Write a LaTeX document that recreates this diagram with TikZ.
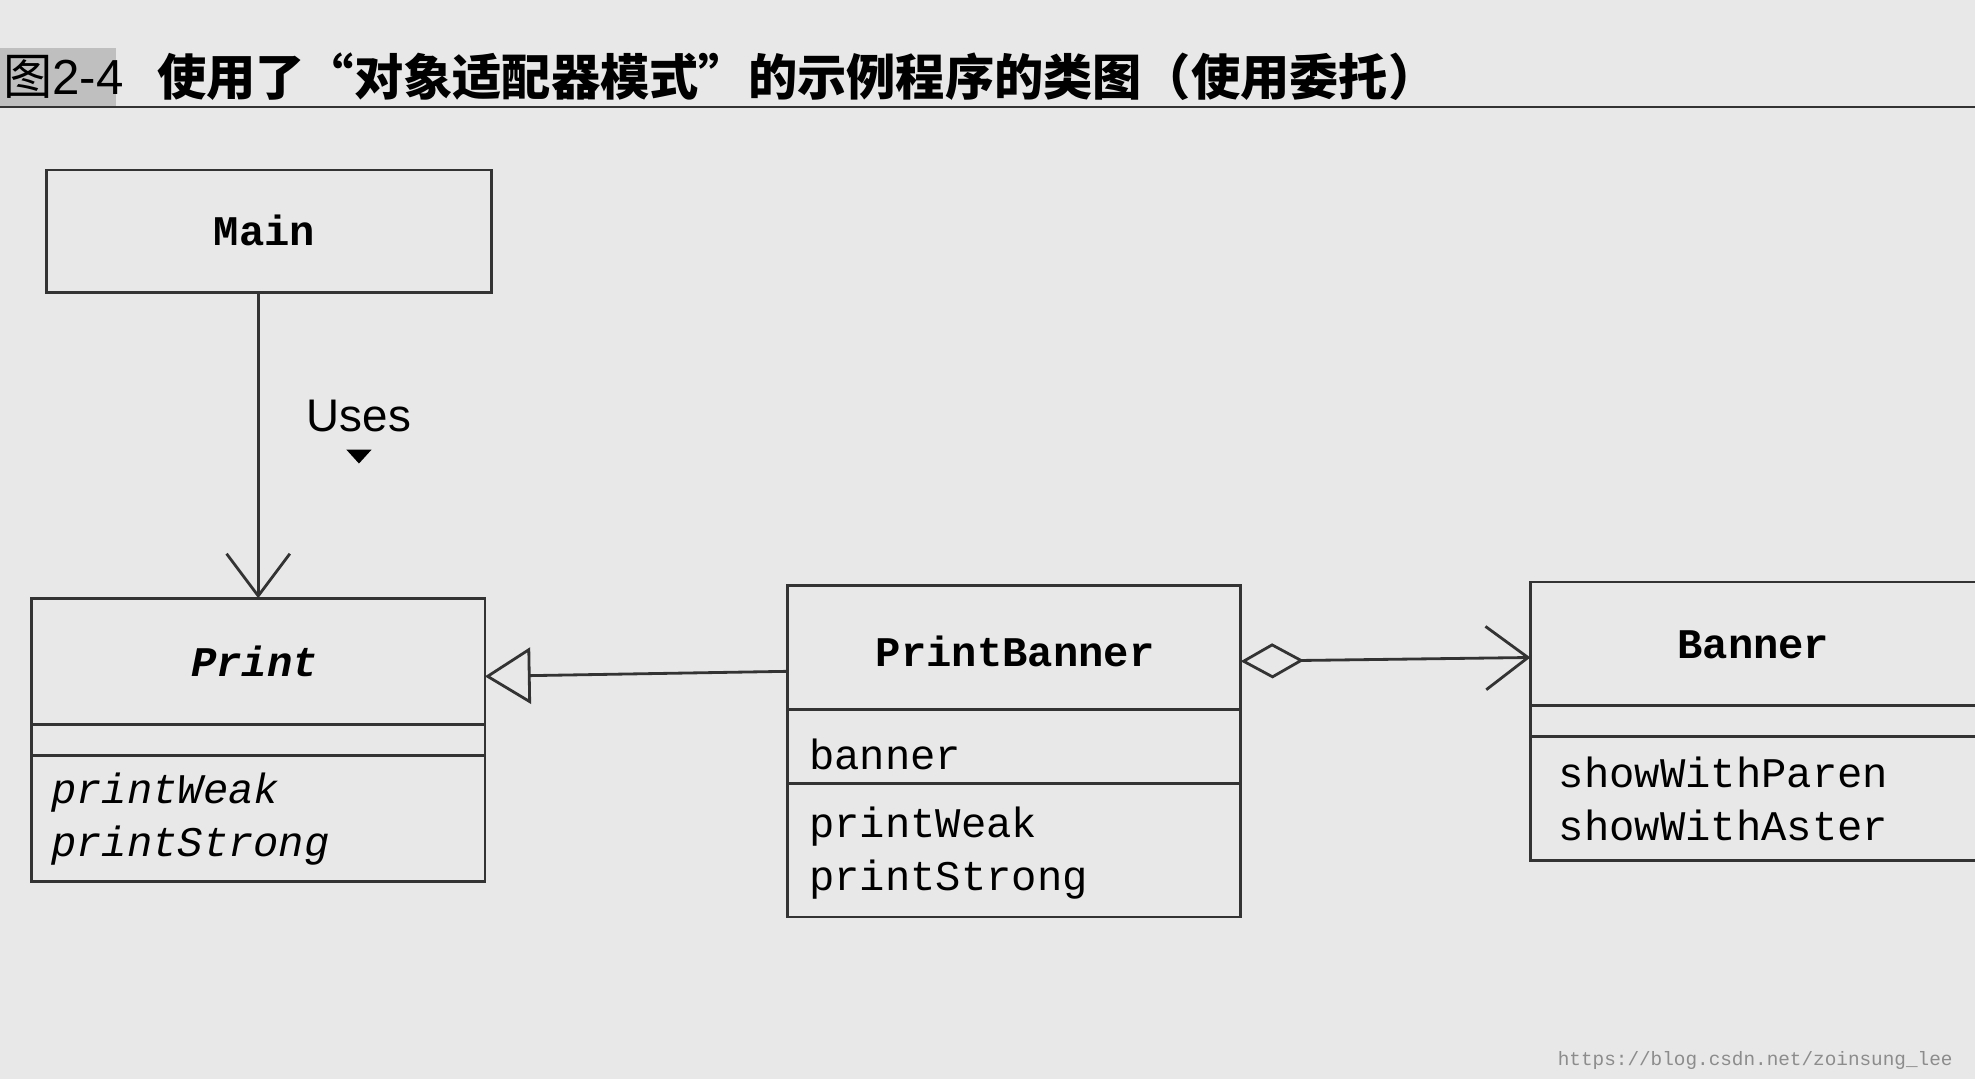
\documentclass[tikz,border=0pt]{standalone}
\usepackage{fontspec}
\setmainfont{Liberation Sans}
\setmonofont{Liberation Mono}
\newfontfamily\cjk{Noto Sans CJK SC}
\usetikzlibrary{arrows.meta}
\begin{document}
\begin{tikzpicture}[x=0.012596cm,y=-0.012596cm,
 box/.style={draw=black!80,line width=0.8pt},
 mono/.style={font=\ttfamily\fontsize{12}{14}\selectfont,anchor=west,inner sep=0},
 ttl/.style={font=\ttfamily\bfseries\fontsize{12}{14}\selectfont}]
\fill[black!9] (0,0) rectangle (1568,857);
\useasboundingbox (0,0) rectangle (1568,857);
\fill[black!25] (0,38) rectangle (92,84);
\node[font=\fontsize{14}{16}\selectfont,anchor=west,inner sep=0] (fig) at (2,61) {{\cjk 图}2-4};
\node[font=\cjk\bfseries\fontsize{14}{16}\selectfont,anchor=west] (title) at (115,61) {使用了“对象适配器模式”的示例程序的类图（使用委托）};
\draw[black!80,line width=0.8pt] (0,85) -- (1568,85);
% Main
\draw[box] (37,135) rectangle (390,232);
\node[ttl] (main) at (210,183) {Main};
\coordinate (mainb) at (205,232);
% Print
\draw[box] (25,475) rectangle (385,700);
\draw[box] (25,575) -- (385,575) (25,600) -- (385,600);
\node[ttl,font=\ttfamily\bfseries\itshape\fontsize{12}{14}\selectfont] (print) at (202,525) {Print};
\node[mono,font=\ttfamily\itshape\fontsize{12}{14}\selectfont] (pw1) at (40,629) {printWeak};
\node[mono,font=\ttfamily\itshape\fontsize{12}{14}\selectfont] (ps1) at (40,671) {printStrong};
\coordinate (printt) at (205,475);
\coordinate (printr) at (385,537);
% PrintBanner
\draw[box] (625,465) rectangle (985,728);
\draw[box] (625,563) -- (985,563) (625,622) -- (985,622);
\node[ttl] (pb) at (806,517) {PrintBanner};
\node[mono] (ban) at (642,599) {banner};
\node[mono] (pw2) at (642,656) {printWeak};
\node[mono] (ps2) at (642,698) {printStrong};
\coordinate (pbl) at (625,533);
\coordinate (pbr) at (985,525);
% Banner
\draw[box] (1568,462) -- (1215,462) -- (1215,683) -- (1568,683);
\draw[box] (1215,560) -- (1568,560) (1215,585) -- (1568,585);
\node[ttl] (bn) at (1392,512) {Banner};
\node[mono] (s1) at (1237,613) {showWithParen};
\node[mono] (s2) at (1237,655) {showWithAster};
\coordinate (bnl) at (1215,522);
% connectors
\draw[black!80,line width=0.8pt,-{Straight Barb[length=12pt,width=18pt]}] (mainb) -- (printt);
\node[font=\fontsize{13}{15}\selectfont] (uses) at (285,330) {Uses};
\fill (275,357) -- (295,357) -- (285,368) -- cycle;
\draw[black!80,line width=0.8pt,-{Triangle[open,length=13pt,width=16pt,fill=black!9]}] (pbl) -- (printr);
\draw[black!80,line width=0.8pt,{Diamond[open,length=18pt,width=10pt,fill=black!9]}-{Straight Barb[length=12pt,width=18pt]}] (pbr) -- (bnl);
\node[font=\ttfamily\fontsize{5.5}{6}\selectfont,text=black!45,anchor=east] (wm) at (1560,842) {https://blog.csdn.net/zoinsung\_lee};
\end{tikzpicture}
\end{document}
